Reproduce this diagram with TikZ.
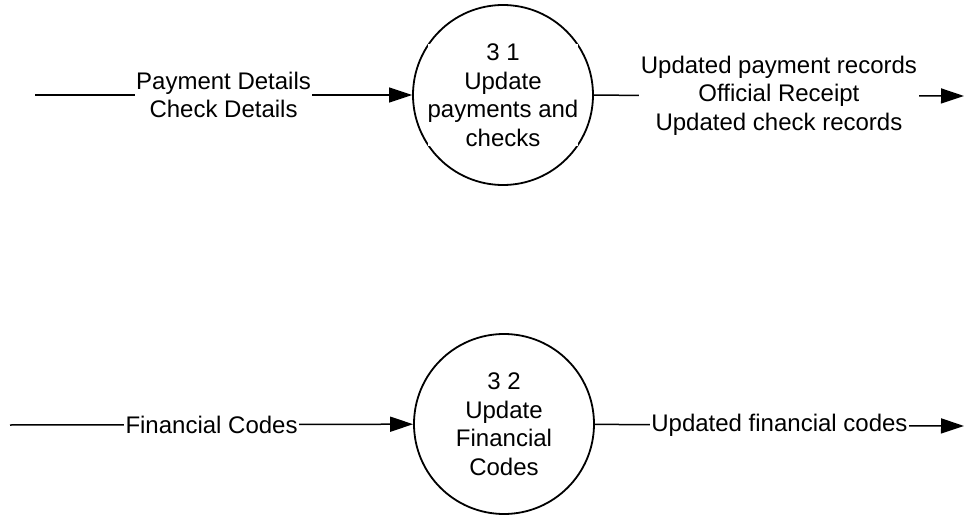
\documentclass[tikz,border=0pt]{standalone}
\usepackage{fontspec}
\setmainfont{Liberation Sans}
\usetikzlibrary{arrows.meta}
\tikzset{
  proc/.style={circle, draw, line width=1.8pt, minimum size=180pt, inner sep=0pt},
  ptext/.style={fill=white, align=center, inner sep=0pt, font=\fontsize{24}{28.5}\selectfont},
  flow/.style={line width=1.5pt, -{Triangle[length=23pt,width=15pt]}},
  lbl/.style={fill=white, align=center, inner xsep=1.5pt, inner ysep=0pt, font=\fontsize{24}{28.5}\selectfont}
}
\begin{document}
\begin{tikzpicture}[x=1pt,y=-1pt]
\useasboundingbox (0,0) rectangle (964,516);
\node[proc] (p1) at (503,95) {};
\node[ptext] (t1) at (p1.center) {3 1\\Update\\payments and\\checks};
\node[proc] (p2) at (504,424) {};
\node[ptext] (t2) at (p2.center) {3 2\\Update\\Financial\\Codes};
\coordinate (s1) at (35,95);
\coordinate (e1) at (964,96);
\coordinate (s2) at (10,425);
\coordinate (e2) at (964,426);
\draw[flow] (s1) -- node[lbl] (l1) {Payment Details\\Check Details} (p1);
\draw[flow] (p1) -- node[lbl] (l2) {Updated payment records\\Official Receipt\\Updated check records} (e1);
\draw[flow] (s2) -- node[lbl] (l3) {Financial Codes} (p2);
\draw[flow] (p2) -- node[lbl] (l4) {Updated financial codes} (e2);
\end{tikzpicture}
\end{document}
